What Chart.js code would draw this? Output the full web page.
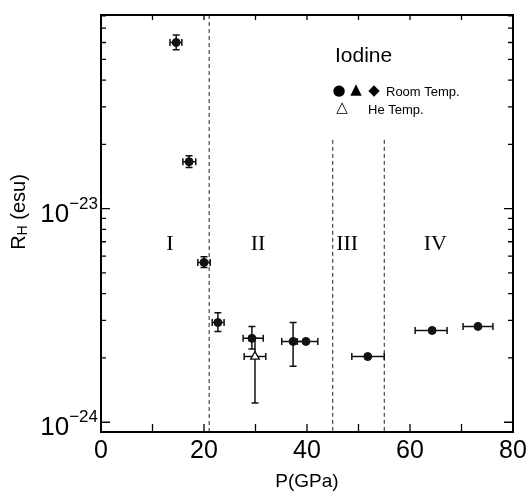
<!DOCTYPE html>
<html>
<head>
<meta charset="utf-8">
<script src="https://cdn.jsdelivr.net/npm/chart.js@4"></script>
<style>
  html, body { margin: 0; padding: 0; background: #fff; }
  #wrap { width: 529px; height: 497px; position: relative; }
</style>
</head>
<body>
<div id="wrap"><canvas id="hall-chart"></canvas></div>
<script>
document.addEventListener("DOMContentLoaded", () => {
  // room temperature points (filled)
  const roomP   = [14.6, 17.1, 20.0, 22.7, 29.3, 37.3, 39.8, 51.8, 64.3, 73.2];
  const roomR   = [6.0e-23, 1.66e-23, 5.6e-24, 2.93e-24, 2.47e-24, 2.39e-24, 2.39e-24, 2.03e-24, 2.69e-24, 2.81e-24];
  const roomPLo = [13.4, 15.9, 18.8, 21.6, 27.6, 35.1, 38.1, 48.7, 61.0, 70.3];
  const roomPHi = [15.7, 18.4, 21.2, 23.9, 31.5, 39.6, 42.1, 55.0, 67.2, 76.1];
  const roomRLo = [5.55e-23, 1.56e-23, 5.3e-24, 2.66e-24, 2.2e-24, 1.83e-24, 2.39e-24, 2.03e-24, 2.69e-24, 2.81e-24];
  const roomRHi = [6.5e-23, 1.77e-23, 5.95e-24, 3.26e-24, 2.81e-24, 2.93e-24, 2.39e-24, 2.03e-24, 2.69e-24, 2.81e-24];

  // He temperature point (open triangle)
  const heP   = [29.9];
  const heR   = [2.03e-24];
  const hePLo = [27.8];
  const hePHi = [32.0];
  const heRLo = [1.23e-24];
  const heRHi = [2.47e-24];

  // phase boundaries and region names
  const phaseP   = [21, 45, 55];
  const phaseTop = [8.07e-23, 2.1e-23, 2.1e-23];
  const regionNames = ["I", "II", "III", "IV"];
  const regionP     = [13.4, 30.5, 47.8, 64.9];
  const regionR     = 6.8e-24;

  const xTicks = [0, 20, 40, 60, 80];
  const xMinor = [10, 30, 50, 70];
  const yExps  = [-24, -23];
  const yMin = 0.908e-24, yMax = 8.07e-23;

  const sans = '"Liberation Sans", Arial, sans-serif';
  const serif = '"Liberation Serif", "Times New Roman", serif';
  const symFont = '15px "DejaVu Sans", sans-serif';

  const errorPlugin = {
    id: 'errorBars',
    beforeDatasetsDraw(chart) {
      const ctx = chart.ctx;
      const x = chart.scales.x, y = chart.scales.y;
      const area = chart.chartArea;

      // dashed phase lines
      ctx.save();
      ctx.strokeStyle = '#222';
      ctx.lineWidth = 1;
      ctx.setLineDash([4, 3]);
      phaseP.forEach((p, i) => {
        const px = x.getPixelForValue(p);
        ctx.beginPath();
        ctx.moveTo(px, Math.max(area.top, y.getPixelForValue(phaseTop[i])));
        ctx.lineTo(px, area.bottom);
        ctx.stroke();
      });
      ctx.restore();

      const bars = (xv, yv, pLo, pHi, rLo, rHi) => {
        ctx.save();
        ctx.strokeStyle = '#111';
        ctx.lineWidth = 1.5;
        const cap = 3.5;
        for (let i = 0; i < xv.length; i++) {
          const xa = x.getPixelForValue(xv[i]);
          const cy = y.getPixelForValue(yv[i]);
          const p1 = x.getPixelForValue(pLo[i]), p2 = x.getPixelForValue(pHi[i]);
          ctx.beginPath();
          ctx.moveTo(p1, cy); ctx.lineTo(p2, cy);
          ctx.moveTo(p1, cy - cap); ctx.lineTo(p1, cy + cap);
          ctx.moveTo(p2, cy - cap); ctx.lineTo(p2, cy + cap);
          if (rLo[i] !== rHi[i]) {
            const y1 = y.getPixelForValue(rLo[i]), y2 = y.getPixelForValue(rHi[i]);
            ctx.moveTo(xa, y1); ctx.lineTo(xa, y2);
            ctx.moveTo(xa - cap, y1); ctx.lineTo(xa + cap, y1);
            ctx.moveTo(xa - cap, y2); ctx.lineTo(xa + cap, y2);
          }
          ctx.stroke();
        }
        ctx.restore();
      };
      bars(roomP, roomR, roomPLo, roomPHi, roomRLo, roomRHi);
      bars(heP, heR, hePLo, hePHi, heRLo, heRHi);
    },
    afterDraw(chart) {
      const ctx = chart.ctx;
      const x = chart.scales.x, y = chart.scales.y;
      const a = chart.chartArea;

      ctx.save();
      // frame
      ctx.strokeStyle = '#000';
      ctx.lineWidth = 2;
      ctx.strokeRect(a.left, a.top, a.right - a.left, a.bottom - a.top);

      // x ticks (inward, bottom and top)
      ctx.lineWidth = 1.3;
      ctx.beginPath();
      xTicks.concat(xMinor).forEach(v => {
        const px = x.getPixelForValue(v);
        ctx.moveTo(px, a.bottom); ctx.lineTo(px, a.bottom - 8);
        ctx.moveTo(px, a.top); ctx.lineTo(px, a.top + 5);
      });
      // y ticks (log, inward, left and right)
      for (let d = -25; d <= -22; d++) {
        for (let m = 1; m <= 9; m++) {
          const v = m * Math.pow(10, d);
          if (v < yMin || v > yMax) continue;
          const py = y.getPixelForValue(v);
          const len = m === 1 ? 9 : 5;
          ctx.moveTo(a.left, py); ctx.lineTo(a.left + len, py);
          ctx.moveTo(a.right, py); ctx.lineTo(a.right - len, py);
        }
      }
      ctx.stroke();

      // x tick labels
      ctx.fillStyle = '#000';
      ctx.font = '25px ' + sans;
      ctx.textAlign = 'center';
      ctx.textBaseline = 'top';
      xTicks.forEach(v => ctx.fillText(String(v), x.getPixelForValue(v), a.bottom + 7));

      // y tick labels 10^n
      yExps.forEach(e => {
        const py = y.getPixelForValue(Math.pow(10, e));
        ctx.textBaseline = 'alphabetic';
        ctx.textAlign = 'right';
        ctx.font = '17px ' + sans;
        const sup = '\u2212' + String(-e);
        const supW = ctx.measureText(sup).width;
        ctx.fillText(sup, a.left - 3, py);
        ctx.font = '26px ' + sans;
        ctx.fillText('10', a.left - 3 - supW, py + 13);
      });

      // axis titles
      ctx.font = '19px ' + sans;
      ctx.textAlign = 'center';
      ctx.textBaseline = 'middle';
      ctx.fillText('P(GPa)', (a.left + a.right) / 2, 482);

      ctx.save();
      ctx.translate(19, 212);
      ctx.rotate(-Math.PI / 2);
      ctx.textAlign = 'left';
      ctx.font = '20px ' + sans;
      const wR = ctx.measureText('R').width;
      ctx.font = '14px ' + sans;
      const wH = ctx.measureText('H').width;
      ctx.font = '20px ' + sans;
      const wRest = ctx.measureText(' (esu)').width;
      let sx = -(wR + wH + wRest) / 2;
      ctx.fillText('R', sx, 0); sx += wR;
      ctx.font = '14px ' + sans;
      ctx.fillText('H', sx, 4); sx += wH;
      ctx.font = '20px ' + sans;
      ctx.fillText(' (esu)', sx, 0);
      ctx.restore();

      // region labels
      ctx.font = '22px ' + serif;
      ctx.textAlign = 'center';
      ctx.textBaseline = 'middle';
      regionNames.forEach((t, i) => ctx.fillText(t, x.getPixelForValue(regionP[i]), y.getPixelForValue(regionR)));

      // legend text
      ctx.textAlign = 'left';
      ctx.font = '21px ' + sans;
      ctx.fillText('Iodine', 335, 56);
      ctx.font = symFont;
      ctx.textAlign = 'center';
      ctx.fillText('\u25CF', 339, 91);
      ctx.fillText('\u25B2', 356, 90);
      ctx.fillText('\u25C6', 374, 91);
      ctx.fillText('\u25B3', 342, 108);
      ctx.textAlign = 'left';
      ctx.font = '13px ' + sans;
      ctx.fillText('Room Temp.', 386, 92);
      ctx.fillText('He Temp.', 368, 110);
      ctx.restore();
    }
  };

  new Chart(document.getElementById('hall-chart').getContext('2d'), {
    type: 'scatter',
    data: {
      datasets: [
        {
          label: 'Room Temp.',
          data: roomP.map((p, i) => ({ x: p, y: roomR[i] })),
          pointStyle: 'circle',
          pointRadius: 4,
          backgroundColor: '#111',
          borderColor: '#111',
          borderWidth: 1
        },
        {
          label: 'He Temp.',
          data: heP.map((p, i) => ({ x: p, y: heR[i] })),
          pointStyle: 'triangle',
          pointRadius: 5,
          backgroundColor: '#fff',
          borderColor: '#111',
          borderWidth: 1.3
        }
      ]
    },
    options: {
      responsive: true,
      maintainAspectRatio: false,
      animation: false,
      layout: { padding: { left: 101, right: 16, top: 15, bottom: 65 } },
      plugins: { legend: { display: false }, tooltip: { enabled: false } },
      scales: {
        x: {
          type: 'linear', min: 0, max: 80,
          ticks: { display: false }, grid: { display: false }, border: { display: false },
          afterFit: s => { s.height = 0; }
        },
        y: {
          type: 'logarithmic', min: yMin, max: yMax,
          ticks: { display: false }, grid: { display: false }, border: { display: false },
          afterFit: s => { s.width = 0; }
        }
      }
    },
    plugins: [errorPlugin]
  });
});
</script>
</body>
</html>
